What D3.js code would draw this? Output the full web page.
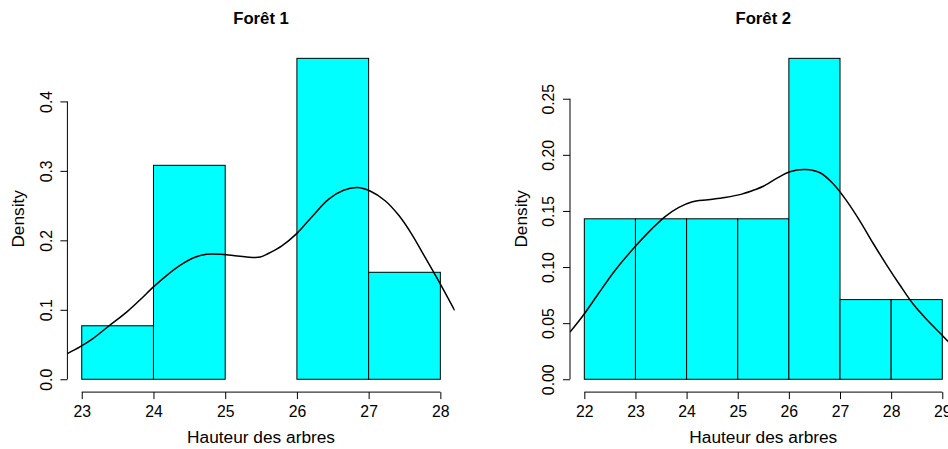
<!DOCTYPE html>
<html>
<head>
<meta charset="utf-8">
<script src="https://cdn.jsdelivr.net/npm/d3@7"></script>
<style>
  html, body { margin: 0; padding: 0; background: #fff; }
  svg { display: block; }
  text { font-family: "Liberation Sans", Arial, Helvetica, sans-serif; fill: #000; }
</style>
</head>
<body>
<svg id="chart" width="948" height="449"></svg>
<script>
// ---------- DATA ----------
const titles = ["Forêt 1", "Forêt 2"];
const xLabel = "Hauteur des arbres";
const yLabel = "Density";

// Forêt 1 histogram
const breaks1 = [23, 24, 25, 26, 27, 28];
const density1 = [0.077, 0.308, 0, 0.462, 0.154];
const xTicks1 = [23, 24, 25, 26, 27, 28];
const yTicks1 = [0, 0.1, 0.2, 0.3, 0.4];
const yTickLabels1 = ["0.0", "0.1", "0.2", "0.3", "0.4"];
// Forêt 1 density curve
const kdeX1 = [22.80, 22.98, 23.16, 23.37, 23.63, 23.81, 24.00, 24.19, 24.37, 24.56, 24.74, 24.93, 25.11, 25.30, 25.49, 25.60, 25.79, 26.00, 26.21, 26.44, 26.65, 26.84, 27.02, 27.23, 27.42, 27.60, 27.79, 28.00, 28.20];
const kdeY1 = [0.037, 0.047, 0.059, 0.076, 0.097, 0.114, 0.133, 0.150, 0.164, 0.175, 0.180, 0.180, 0.178, 0.176, 0.176, 0.181, 0.192, 0.210, 0.234, 0.259, 0.272, 0.276, 0.271, 0.257, 0.236, 0.209, 0.175, 0.137, 0.099];

// Forêt 2 histogram
const breaks2 = [22, 23, 24, 25, 26, 27, 28, 29];
const density2 = [0.143, 0.143, 0.143, 0.143, 0.286, 0.071, 0.071];
const xTicks2 = [22, 23, 24, 25, 26, 27, 28, 29];
const yTicks2 = [0, 0.05, 0.10, 0.15, 0.20, 0.25];
const yTickLabels2 = ["0.00", "0.05", "0.10", "0.15", "0.20", "0.25"];
// Forêt 2 density curve
const kdeX2 = [21.72, 21.98, 22.27, 22.60, 22.99, 23.32, 23.58, 23.84, 24.10, 24.42, 24.75, 25.08, 25.34, 25.50, 25.76, 26.02, 26.32, 26.61, 26.87, 27.13, 27.39, 27.65, 27.91, 28.17, 28.43, 28.70, 28.96, 29.11, 29.28];
const kdeY2 = [0.042, 0.057, 0.076, 0.097, 0.118, 0.134, 0.145, 0.153, 0.158, 0.160, 0.162, 0.165, 0.169, 0.172, 0.179, 0.185, 0.187, 0.184, 0.174, 0.159, 0.141, 0.121, 0.102, 0.084, 0.067, 0.053, 0.041, 0.034, 0.029];

// ---------- DRAW ----------
const svg = d3.select("#chart");
const FONT = '"Liberation Sans", Arial, Helvetica, sans-serif';

const panels = [
  { left: 67.4, right: 454.7, breaks: breaks1, dens: density1, xTicks: xTicks1, yTicks: yTicks1, yLabels: yTickLabels1, kx: kdeX1, ky: kdeY1, title: titles[0] },
  { left: 570.0, right: 956.6, breaks: breaks2, dens: density2, xTicks: xTicks2, yTicks: yTicks2, yLabels: yTickLabels2, kx: kdeX2, ky: kdeY2, title: titles[1] }
];
const plotTop = 45.5, plotBottom = 392.1;

panels.forEach((p, i) => {
  const xmin = d3.min(p.breaks), xmax = d3.max(p.breaks);
  const ymax = d3.max(p.dens);
  const xs = d3.scaleLinear()
    .domain([xmin - 0.04 * (xmax - xmin), xmax + 0.04 * (xmax - xmin)])
    .range([p.left, p.right]);
  const ys = d3.scaleLinear()
    .domain([-0.04 * ymax, 1.04 * ymax])
    .range([plotBottom, plotTop]);

  const g = svg.append("g");

  // bars
  const bins = p.dens.map((d, k) => ({ x0: p.breaks[k], x1: p.breaks[k + 1], d }));
  g.selectAll("rect.bar").data(bins).join("rect")
    .attr("class", "bar")
    .attr("x", b => xs(b.x0))
    .attr("y", b => ys(b.d))
    .attr("width", b => xs(b.x1) - xs(b.x0))
    .attr("height", b => Math.max(0, ys(0) - ys(b.d)))
    .attr("fill", "#00FFFF")
    .attr("stroke", "#000")
    .attr("stroke-width", 1);

  // clip for density line
  const clipId = "clip" + i;
  svg.append("clipPath").attr("id", clipId)
    .append("rect")
    .attr("x", p.left).attr("y", plotTop)
    .attr("width", p.right - p.left).attr("height", plotBottom - plotTop);

  const line = d3.line().curve(d3.curveCatmullRom.alpha(0.5))
    .x(d => xs(d[0])).y(d => ys(d[1]));
  g.append("path")
    .datum(d3.zip(p.kx, p.ky))
    .attr("clip-path", `url(#${clipId})`)
    .attr("d", line)
    .attr("fill", "none")
    .attr("stroke", "#000")
    .attr("stroke-width", 1.5);

  // x axis
  const xAxis = d3.axisBottom(xs).tickValues(p.xTicks).tickSize(7).tickFormat(d3.format("d"));
  const gx = g.append("g").attr("transform", `translate(0,${plotBottom})`).call(xAxis);
  gx.select(".domain").remove();
  gx.append("line")
    .attr("x1", xs(d3.min(p.xTicks))).attr("x2", xs(d3.max(p.xTicks)))
    .attr("y1", 0).attr("y2", 0)
    .attr("stroke", "#000");
  gx.selectAll(".tick line").attr("stroke", "#000");
  gx.selectAll(".tick text")
    .attr("y", 25.2).attr("dy", 0)
    .attr("font-size", "15.8px")
    .attr("font-family", FONT)
    .attr("fill", "#000");

  // y axis
  const yAxis = d3.axisLeft(ys).tickValues(p.yTicks).tickSize(7)
    .tickFormat((d, k) => p.yLabels[k]);
  const gy = g.append("g").attr("transform", `translate(${p.left},0)`).call(yAxis);
  gy.select(".domain").remove();
  gy.append("line")
    .attr("x1", 0).attr("x2", 0)
    .attr("y1", ys(d3.min(p.yTicks))).attr("y2", ys(d3.max(p.yTicks)))
    .attr("stroke", "#000");
  gy.selectAll(".tick line").attr("stroke", "#000");
  gy.selectAll(".tick text")
    .attr("transform", "rotate(-90)")
    .attr("x", 0).attr("y", -15.8).attr("dy", 0)
    .attr("text-anchor", "middle")
    .attr("font-size", "15.8px")
    .attr("font-family", FONT)
    .attr("fill", "#000");

  const cx = (p.left + p.right) / 2;
  // title
  g.append("text")
    .attr("x", cx).attr("y", 24.3)
    .attr("text-anchor", "middle")
    .attr("font-weight", "bold")
    .attr("font-size", "16.7px")
    .text(p.title);
  // x label
  g.append("text")
    .attr("x", cx).attr("y", 443)
    .attr("text-anchor", "middle")
    .attr("font-size", "17.3px")
    .text(xLabel);
  // y label
  g.append("text")
    .attr("transform", `translate(${p.left - 43.2},${(plotTop + plotBottom) / 2}) rotate(-90)`)
    .attr("text-anchor", "middle")
    .attr("font-size", "17.3px")
    .text(yLabel);
});
</script>
</body>
</html>
